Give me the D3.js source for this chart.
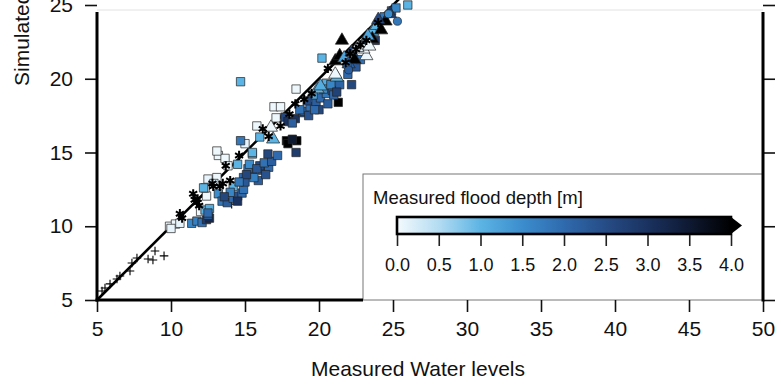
<!DOCTYPE html>
<html>
<head>
<meta charset="utf-8">
<script src="https://cdn.jsdelivr.net/npm/d3@7"></script>
<style>
  html, body { margin: 0; padding: 0; background: #fff; }
  svg { display: block; font-family: "Liberation Sans", Arial, sans-serif; }
</style>
</head>
<body>
<svg id="chart" width="781" height="390"></svg>
<script>
// measured, simulated, measured flood depth [m]
const squares = [
  [9.9, 10.0, 0.05], [10.3, 10.15, 0.05], [10.6, 10.2, 0.1], [10.0, 9.85, 0.1],
  [11.4, 10.2, 1.6], [11.75, 10.35, 1.7], [12.1, 10.25, 1.9], [12.4, 10.45, 2.8], [12.6, 10.55, 3.2], [12.5, 10.75, 2.2],
  [12.0, 11.0, 0.05], [12.3, 11.1, 1.0], [12.6, 11.2, 1.1], [12.5, 10.9, 2.0],
  [12.4, 12.05, 0.05], [12.3, 12.6, 0.1], [12.2, 12.6, 1.0], [12.8, 13.05, 0.1], [13.1, 13.3, 0.05], [12.5, 13.2, 0.1], [12.9, 12.9, 0.2],
  [13.2, 12.2, 1.5], [13.45, 11.7, 1.8], [13.8, 11.6, 2.2], [14.2, 11.9, 2.0], [14.5, 12.05, 2.4], [14.8, 12.25, 2.0],
  [14.2, 12.7, 1.0], [14.5, 11.7, 3.0], [14.0, 12.3, 1.6], [13.6, 12.0, 2.6], [14.9, 12.5, 1.9],
  [14.9, 13.3, 2.0], [15.5, 13.6, 1.9], [16.2, 13.8, 2.1], [15.2, 13.9, 1.8], [15.9, 13.1, 2.2], [16.6, 14.0, 2.0],
  [15.0, 13.0, 2.3], [15.6, 13.3, 1.7], [16.0, 14.1, 2.5], [15.3, 14.2, 1.5], [16.4, 13.5, 2.4],
  [15.8, 13.9, 2.3], [16.3, 14.3, 1.9], [15.1, 13.5, 2.6], [16.8, 14.4, 2.2], [17.2, 14.8, 2.0], [14.6, 13.0, 1.8],
  [14.5, 14.2, 1.0], [15.5, 14.9, 1.1], [16.55, 14.9, 2.6],
  [13.2, 14.8, 0.05], [13.65, 14.6, 0.05], [13.85, 14.1, 0.05], [13.1, 15.1, 0.05], [15.0, 15.6, 0.1],
  [15.8, 16.8, 0.05], [17.1, 17.35, 0.05], [16.96, 18.1, 0.05], [17.4, 18.1, 0.05], [18.45, 19.3, 0.05],
  [14.7, 19.8, 1.0], [20.2, 21.4, 1.0], [16.0, 16.05, 1.0], [15.5, 15.0, 1.0], [20.5, 19.7, 1.1], [14.7, 15.8, 1.8],
  [17.8, 15.8, 4.0], [18.5, 15.8, 4.0], [17.9, 15.6, 4.0], [18.2, 15.9, 3.5], [18.45, 15.0, 2.8],
  [18.4, 17.3, 3.0], [18.9, 17.7, 2.6], [21.3, 18.4, 4.0],
  [19.0, 17.8, 2.0], [19.4, 18.1, 1.9], [19.8, 18.4, 2.2], [20.1, 18.7, 2.0], [20.5, 19.0, 1.8], [19.6, 18.9, 1.2],
  [19.2, 18.5, 2.5], [20.9, 19.2, 2.3], [20.0, 17.9, 2.6], [18.7, 17.9, 1.9], [21.0, 18.9, 2.0], [20.3, 19.3, 1.5],
  [19.3, 17.5, 2.4], [19.7, 17.9, 2.0], [20.6, 18.3, 2.2], [20.8, 19.6, 1.6], [21.4, 19.6, 2.1], [21.2, 19.1, 2.7],
  [21.95, 20.3, 2.0], [22.2, 19.6, 2.6], [22.5, 20.8, 2.3], [22.8, 21.3, 1.9],
  [17.7, 17.4, 2.6], [17.9, 17.1, 3.0], [18.2, 17.0, 2.2],
  [23.0, 22.3, 2.0], [23.5, 23.0, 2.6], [24.4, 24.2, 1.8], [24.9, 24.6, 2.2], [25.2, 24.8, 1.6], [26.0, 25.0, 1.0], [23.8, 22.6, 2.8]
];
const triangles = [
  [16.75, 16.7, 0.05], [16.9, 15.9, 1.0], [19.9, 19.3, 1.0], [20.1, 19.5, 1.1], [21.2, 20.1, 1.0], [21.1, 20.3, 0.05],
  [21.1, 21.2, 4.0], [21.4, 21.55, 4.0], [21.7, 21.4, 1.2], [23.2, 21.55, 0.05], [23.0, 22.0, 0.05],
  [23.6, 23.2, 1.0], [23.9, 23.6, 1.0], [24.5, 23.9, 4.0], [23.6, 22.7, 4.0], [21.55, 22.6, 4.0],
  [22.2, 21.8, 2.5], [24.8, 24.4, 2.8], [22.6, 22.1, 0.1],
  [22.0, 21.0, 2.2], [22.4, 21.3, 4.0], [23.3, 22.9, 1.2], [24.2, 23.3, 4.0], [24.0, 24.0, 2.6], [23.4, 22.2, 0.05]
];
const circles = [
  [21.9, 20.9, 1.8], [25.3, 23.9, 1.8], [24.7, 24.4, 1.5], [22.0, 20.6, 2.2]
];
// measured, simulated (black symbols, no depth)
const stars = [
  [10.6, 10.85], [10.75, 10.55], [11.5, 12.2], [11.9, 11.4], [11.6, 11.8], [11.75, 11.6], [11.8, 11.85],
  [12.85, 12.7], [13.5, 12.9], [14.0, 13.1], [12.8, 12.9], [13.3, 12.7], [13.7, 14.1], [14.6, 14.8],
  [16.6, 16.1], [17.4, 16.8], [18.0, 17.6], [18.4, 18.3], [20.6, 20.7], [22.1, 21.7], [22.5, 22.0],
  [22.8, 22.3], [23.2, 22.6], [21.8, 21.1], [16.2, 16.6], [19.0, 18.6], [19.5, 19.0], [24.0, 23.8]
];
const pluses = [
  [8.92, 8.32], [9.53, 7.99], [8.45, 7.78], [8.78, 7.71], [7.7, 7.85], [7.36, 7.51], [7.23, 6.97],
  [6.55, 6.63], [6.35, 6.42], [5.88, 6.09], [5.54, 5.81], [5.34, 5.61], [14.1, 11.5]
];
const oneToOne = [[5, 5], [30, 30]];
const xTicks = [5, 10, 15, 20, 25, 30, 35, 40, 45, 50];
const yTicks = [5, 10, 15, 20, 25];
const depthTicks = [0, 0.5, 1, 1.5, 2, 2.5, 3, 3.5, 4];
const depthColors = ["#f4fafd", "#b3dcf2", "#5cb4e4", "#3b8dcd", "#2f6aae", "#264c86", "#1a3260", "#0e1932", "#000000"];

const svg = d3.select("#chart");
const font = "Liberation Sans, Arial, sans-serif";

const x = d3.scaleLinear().domain([5, 50]).range([97, 763]);
const y = d3.scaleLinear().domain([5, 25]).range([300, 5]);
const color = d3.scaleLinear().domain(depthTicks).range(depthColors).clamp(true);

// thin line at the top of the cropped frame
svg.append("line")
  .attr("x1", 97).attr("x2", 763).attr("y1", 10).attr("y2", 10)
  .attr("stroke", "#e2e2e2").attr("stroke-width", 1);

// 1:1 line
svg.append("path")
  .datum(oneToOne)
  .attr("fill", "none")
  .attr("stroke", "#000")
  .attr("stroke-width", 2.6)
  .attr("d", d3.line().x(d => x(d[0])).y(d => y(d[1])));

const pts = svg.append("g");

pts.selectAll(".plus")
  .data(pluses)
  .join("path")
    .attr("transform", d => `translate(${x(d[0])},${y(d[1])})`)
    .attr("d", d3.symbol(d3.symbolPlus, 26))
    .attr("fill", "none")
    .attr("stroke", "#000")
    .attr("stroke-width", 1.1);

pts.selectAll(".sq")
  .data(squares)
  .join("path")
    .attr("transform", d => `translate(${x(d[0])},${y(d[1])})`)
    .attr("d", d3.symbol(d3.symbolSquare, 70))
    .attr("fill", d => color(d[2]))
    .attr("stroke", "#222")
    .attr("stroke-width", 0.7);

pts.selectAll(".tri")
  .data(triangles)
  .join("path")
    .attr("transform", d => `translate(${x(d[0])},${y(d[1])})`)
    .attr("d", d3.symbol(d3.symbolTriangle, 75))
    .attr("fill", d => color(d[2]))
    .attr("stroke", "#222")
    .attr("stroke-width", 0.7);

pts.selectAll(".circ")
  .data(circles)
  .join("path")
    .attr("transform", d => `translate(${x(d[0])},${y(d[1])})`)
    .attr("d", d3.symbol(d3.symbolCircle, 52))
    .attr("fill", d => color(d[2]))
    .attr("stroke", "#222")
    .attr("stroke-width", 0.7);

pts.selectAll(".star")
  .data(stars)
  .join("path")
    .attr("transform", d => `translate(${x(d[0])},${y(d[1])})`)
    .attr("d", d3.symbol(d3.symbolAsterisk, 60))
    .attr("fill", "none")
    .attr("stroke", "#000")
    .attr("stroke-width", 2);

// legend box (covers the lower right of the frame)
const lg = svg.append("g");
lg.append("rect")
  .attr("x", 363).attr("y", 174).attr("width", 400).attr("height", 126)
  .attr("fill", "#fff").attr("stroke", "#777").attr("stroke-width", 1);

lg.append("text")
  .attr("x", 373).attr("y", 204)
  .attr("font-size", 18.5)
  .attr("fill", "#111")
  .text("Measured flood depth [m]");

const cb = d3.scaleLinear().domain([0, 4]).range([397, 731]);
const grad = svg.append("defs").append("linearGradient")
  .attr("id", "depthGrad")
  .attr("gradientUnits", "userSpaceOnUse")
  .attr("x1", cb(0)).attr("x2", cb(4)).attr("y1", 0).attr("y2", 0);
grad.selectAll("stop")
  .data(depthTicks)
  .join("stop")
    .attr("offset", d => d / 4)
    .attr("stop-color", d => color(d));

lg.append("path")
  .attr("d", `M${cb(0)},217 H${cb(4)} L${cb(4) + 11},225.5 L${cb(4)},234 H${cb(0)} Z`)
  .attr("fill", "#000");
lg.append("rect")
  .attr("x", cb(0)).attr("y", 217).attr("width", cb(4) - cb(0)).attr("height", 17)
  .attr("fill", "url(#depthGrad)")
  .attr("stroke", "#000").attr("stroke-width", 2.6);

lg.append("g")
  .attr("transform", "translate(0,235)")
  .call(d3.axisBottom(cb).tickValues(depthTicks).tickFormat(d3.format(".1f")).tickSize(11).tickPadding(12))
  .call(g => g.select(".domain").remove())
  .call(g => g.selectAll("line").attr("stroke", "#222").attr("stroke-width", 1.6))
  .call(g => g.selectAll("text").attr("font-size", 18).attr("fill", "#111").attr("font-family", font));

// axes
const frame = svg.append("g");
frame.append("g")
  .attr("transform", "translate(0,300)")
  .call(d3.axisBottom(x).tickValues(xTicks).tickSize(12).tickPadding(9).tickFormat(d3.format("d")))
  .call(g => g.select(".domain").remove())
  .call(g => g.selectAll("line").attr("stroke", "#111").attr("stroke-width", 1.6))
  .call(g => g.selectAll("text").attr("font-size", 21).attr("fill", "#111").attr("font-family", font));

frame.append("g")
  .attr("transform", "translate(97,0)")
  .call(d3.axisLeft(y).tickValues(yTicks).tickSize(12).tickPadding(12).tickFormat(d3.format("d")))
  .call(g => g.select(".domain").remove())
  .call(g => g.selectAll("line").attr("stroke", "#111").attr("stroke-width", 1.6))
  .call(g => g.selectAll("text").attr("font-size", 21).attr("fill", "#111").attr("font-family", font));

frame.append("g")
  .attr("transform", "translate(763,0)")
  .call(d3.axisRight(y).tickValues(yTicks).tickSize(12).tickFormat(""))
  .call(g => g.select(".domain").remove())
  .call(g => g.selectAll("line").attr("stroke", "#111").attr("stroke-width", 1.6));

frame.append("line")
  .attr("x1", 97).attr("x2", 97).attr("y1", 12).attr("y2", 301.5)
  .attr("stroke", "#000").attr("stroke-width", 3);
frame.append("line")
  .attr("x1", 763).attr("x2", 763).attr("y1", 12).attr("y2", 301.5)
  .attr("stroke", "#000").attr("stroke-width", 3);
frame.append("line")
  .attr("x1", 95.5).attr("x2", 363).attr("y1", 300).attr("y2", 300)
  .attr("stroke", "#000").attr("stroke-width", 3);

svg.append("text")
  .attr("x", 418).attr("y", 376)
  .attr("text-anchor", "middle")
  .attr("font-size", 21)
  .attr("fill", "#111")
  .text("Measured Water levels");

svg.append("text")
  .attr("transform", "translate(29,86) rotate(-90)")
  .attr("text-anchor", "start")
  .attr("font-size", 21)
  .attr("fill", "#111")
  .text("Simulated Water levels");
</script>
</body>
</html>
